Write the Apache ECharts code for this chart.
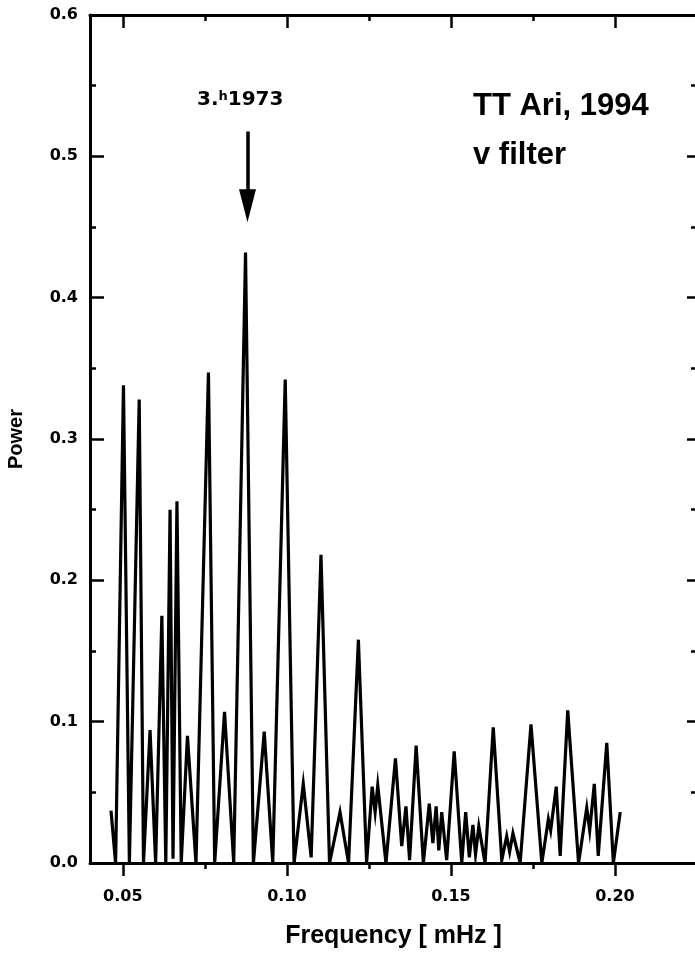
<!DOCTYPE html>
<html><head><meta charset="utf-8">
<script src="https://cdn.jsdelivr.net/npm/echarts@6/dist/echarts.min.js"></script>
<style>html,body{margin:0;padding:0;background:#fff}#c{width:695px;height:956px}</style>
</head><body><div id="c"></div>
<script>
const freq = [0.0464,0.0478,0.0502,0.0520,0.0550,0.0563,0.0583,0.0600,0.0619,0.0631,
0.0644,0.0653,0.0665,0.0678,0.0697,0.0723,0.0761,0.0780,0.0810,0.0838,
0.0874,0.0898,0.0931,0.0957,0.0995,0.1022,0.1050,0.1074,0.1104,0.1130,
0.1162,0.1188,0.1218,0.1243,0.1260,0.1269,0.1277,0.1302,0.1331,0.1350,
0.1363,0.1374,0.1394,0.1416,0.1434,0.1445,0.1455,0.1463,0.1472,0.1487,
0.1510,0.1533,0.1545,0.1556,0.1567,0.1575,0.1585,0.1604,0.1629,0.1655,
0.1670,0.1679,0.1689,0.1711,0.1744,0.1777,0.1797,0.1804,0.1821,0.1833,
0.1856,0.1889,0.1914,0.1923,0.1937,0.1949,0.1975,0.1995,0.2016];
const power = [0.037,0,0.338,0,0.328,0,0.094,0,0.175,0,
0.250,0.003,0.256,0,0.090,0,0.347,0,0.107,0,
0.432,0,0.093,0,0.342,0,0.056,0.004,0.218,0,
0.036,0,0.158,0,0.054,0.036,0.055,0,0.074,0.012,
0.040,0.002,0.083,0,0.042,0.014,0.040,0.009,0.036,0.002,
0.079,0,0.036,0.004,0.027,0.006,0.026,0,0.096,0.002,
0.019,0.008,0.021,0,0.098,0,0.031,0.023,0.054,0.005,
0.108,0,0.039,0.023,0.056,0.005,0.085,0,0.036];
const xMajorTicks = [0.05, 0.10, 0.15, 0.20];
const xMinorTicks = [0.075, 0.125, 0.175];
const arrowFrom = [0.0880, 0.5176];
const arrowTo = [0.0880, 0.4650];

const chart = echarts.init(document.getElementById('c'), null, {renderer:'canvas'});
const axisCol = '#000';
const tickFont = {fontFamily:'DejaVu Sans', fontWeight:'bold', fontSize:16, color:'#000'};
const xBase = {type:'value', min:0.04, max:0.225, gridIndex:0, splitLine:{show:false}};
const yBase = {type:'value', min:0, max:0.6, interval:0.1, gridIndex:0, splitLine:{show:false}, minorSplitLine:{show:false}};
chart.setOption({
  animation:false,
  backgroundColor:'#fff',
  grid:{left:90, top:15, width:607, height:848, containLabel:false, outerBoundsMode:'none'},
  xAxis:[
    Object.assign({}, xBase, {position:'bottom',
      axisLine:{show:true, onZero:false, lineStyle:{color:axisCol, width:3}},
      axisTick:{show:true, inside:false, length:13, customValues:xMajorTicks, lineStyle:{color:axisCol, width:2.5}},
      axisLabel:Object.assign({show:true, margin:26, customValues:xMajorTicks, formatter:v=>v.toFixed(2)}, tickFont),
      name:'Frequency [ mHz ]', nameLocation:'middle', nameGap:61,
      nameTextStyle:{fontFamily:'Liberation Sans', fontWeight:'bold', fontSize:25, color:'#000'}}),
    Object.assign({}, xBase, {position:'bottom',
      axisLine:{show:false, onZero:false},
      axisTick:{show:true, inside:false, length:6, customValues:xMinorTicks, lineStyle:{color:axisCol, width:2.5}},
      axisLabel:{show:false}}),
    Object.assign({}, xBase, {position:'top',
      axisLine:{show:true, onZero:false, lineStyle:{color:axisCol, width:3}},
      axisTick:{show:true, inside:true, length:13, customValues:xMajorTicks, lineStyle:{color:axisCol, width:2.5}},
      axisLabel:{show:false}}),
    Object.assign({}, xBase, {position:'top',
      axisLine:{show:false, onZero:false},
      axisTick:{show:true, inside:true, length:6, customValues:xMinorTicks, lineStyle:{color:axisCol, width:2.5}},
      axisLabel:{show:false}})
  ],
  yAxis:[
    Object.assign({}, yBase, {position:'left',
      axisLine:{show:true, onZero:false, lineStyle:{color:axisCol, width:3}},
      axisTick:{show:true, inside:true, length:14, lineStyle:{color:axisCol, width:2.5}},
      minorTick:{show:true, splitNumber:2, length:6, lineStyle:{color:axisCol, width:2.5}},
      axisLabel:Object.assign({show:true, margin:12, formatter:v=>v.toFixed(1)}, tickFont),
      name:'Power', nameLocation:'middle', nameGap:64,
      nameTextStyle:{fontFamily:'Liberation Sans', fontWeight:'bold', fontSize:20, color:'#000'}}),
    Object.assign({}, yBase, {position:'right',
      axisLine:{show:true, onZero:false, lineStyle:{color:axisCol, width:3}},
      axisTick:{show:true, inside:true, length:10, lineStyle:{color:axisCol, width:2.5}},
      minorTick:{show:true, splitNumber:2, length:6, lineStyle:{color:axisCol, width:2.5}},
      axisLabel:{show:false}})
  ],
  series:[{
    type:'line', xAxisIndex:0, yAxisIndex:0,
    data: freq.map((f,i)=>[f, power[i]]),
    showSymbol:false, symbol:'none',
    lineStyle:{color:'#000', width:3.2, join:'miter'},
    markLine:{
      silent:true, animation:false,
      symbol:['none','triangle'], symbolSize:[17,33],
      lineStyle:{color:'#000', width:3.5, type:'solid'},
      label:{show:false},
      emphasis:{disabled:true},
      data:[[{coord:arrowFrom},{coord:arrowTo}]]
    }
  }],
  graphic:[
    {type:'text', x:473, y:106, style:{text:'TT Ari, 1994', fontFamily:'Liberation Sans', fontWeight:'bold', fontSize:31, fill:'#000', verticalAlign:'middle'}},
    {type:'text', x:473, y:155, style:{text:'v filter', fontFamily:'Liberation Sans', fontWeight:'bold', fontSize:31, fill:'#000', verticalAlign:'middle'}},
    {type:'text', x:197, y:100, style:{text:'{a|3.}{s|h}{a|1973}', verticalAlign:'middle', fill:'#000',
      rich:{a:{fontFamily:'DejaVu Sans', fontWeight:'bold', fontSize:20, fill:'#000'},
            s:{fontFamily:'DejaVu Sans', fontWeight:'bold', fontSize:13, fill:'#000', verticalAlign:'top'}}}}
  ]
});
</script></body></html>
